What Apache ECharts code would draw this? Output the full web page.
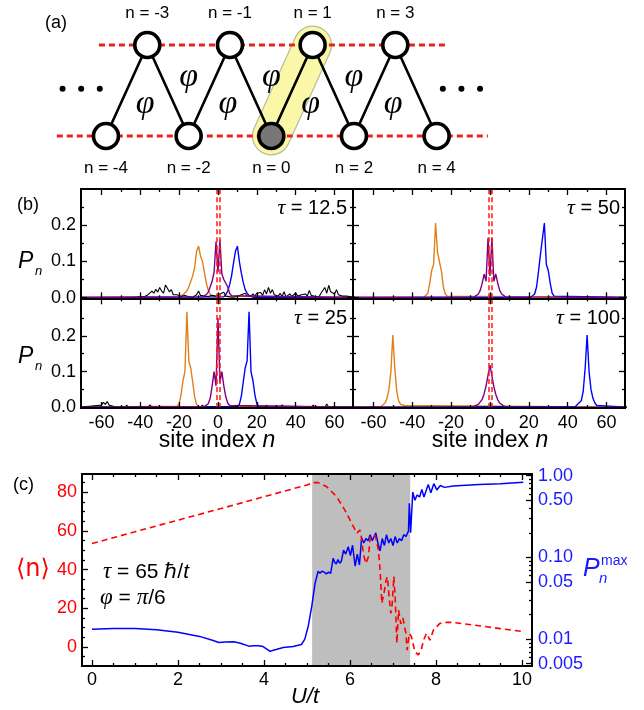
<!DOCTYPE html>
<html><head><meta charset="utf-8">
<script src="https://cdn.jsdelivr.net/npm/echarts@6/dist/echarts.min.js"></script>
<style>html,body{margin:0;padding:0;background:#fff}#c{width:644px;height:710px}</style>
</head><body><div id="c"></div>
<script>
// ================= DATA =================
// (a) lattice schematic
const siteN   = [-4,-3,-2,-1,0,1,2,3,4];
const siteRow = [0,1,0,1,0,1,0,1,0];
const phiN    = [-3.05,-2,-1.05,0,0.95,2,2.95];
const phiRow  = [0.35,0.65,0.35,0.65,0.35,0.65,0.35];
const dotsN   = [-5.05,-4.6,-4.15,4.15,4.6,5.05];
const dotsRow = 0.52;
const railTop = [-4.17, 4.24];
const railBot = [-5.19, 5.24];
const dimer   = [[0,0],[1,1]];

// (b) site populations P_n (start index + values at consecutive n)
const redLinesN = [-0.85, 0.85];
const tau125 = {label:'12.5',
  orangeStart:-20, orange:[0.002,0.005,0.008,0.012,0.018,0.03,0.045,0.06,0.083,0.128,0.142,0.115,0.1,0.07,0.04,0.02,0.01,0.004,0.001],
  blueStart:3, blue:[0.002,0.008,0.018,0.035,0.06,0.095,0.128,0.142,0.1,0.068,0.042,0.022,0.012,0.006,0.003,0.001],
  purpleStart:-8, purple:[0.002,0.004,0.008,0.015,0.03,0.045,0.07,0.155,0.07,0.16,0.065,0.05,0.055,0.03,0.012,0.005,0.002],
  blackStart:-46, black:[
    0,0.002,0,0.003,0.001,0.004,0.002,0.005,0.002,0.006,
    0.008,0.01,0.018,0.012,0.023,0.015,0.028,0.018,0.012,0.035,
    0.03,0.016,0.022,0.008,0.004,0.008,0.012,0.003,0.002,0.006,
    0.001,0.002,0.004,0.001,0.003,0.008,0.018,0.006,0.002,0.004,
    0.001,0.003,0.002,0.006,0.002,0.004,0.002,0.01,0.005,0.015,
    0.004,0.006,0.002,0.004,0.001,0.006,0.003,0.002,0.008,0.003,
    0.012,0.005,0.002,0.004,0.01,0.004,0.012,0.009,0.014,0.006,
    0.022,0.01,0.028,0.012,0.022,0.008,0.01,0.004,0.012,0.003,
    0.016,0.002,0.005,0.01,0.003,0.008,0.013,0.004,0.002,0.008,
    0.003,0.01,0.004,0.02,0.006,0.01,0.003,0.006,0.002,0.012,
    0.008,0.028,0.012,0.034,0.016,0.02,0.01,0.022,0.008,0.01,
    0.004,0.002,0.004,0]};
const tau50 = {label:'50',
  orangeStart:-34, orange:[0.001,0.004,0.012,0.04,0.075,0.092,0.206,0.125,0.12,0.073,0.03,0.01,0.004,0.001],
  blueStart:21, blue:[0.001,0.004,0.01,0.03,0.073,0.12,0.125,0.206,0.092,0.075,0.04,0.012,0.004,0.001],
  purpleStart:-8, purple:[0.002,0.005,0.01,0.02,0.04,0.065,0.045,0.165,0.06,0.165,0.045,0.065,0.04,0.02,0.01,0.005,0.002]};
const tau25 = {label:'25',
  orangeStart:-21, orange:[0.003,0.01,0.035,0.075,0.1,0.267,0.13,0.11,0.07,0.03,0.008,0.002],
  blueStart:10, blue:[0.002,0.008,0.03,0.07,0.11,0.13,0.267,0.1,0.075,0.035,0.01,0.003],
  purpleStart:-7, purple:[0.002,0.005,0.01,0.025,0.06,0.1,0.06,0.25,0.07,0.1,0.06,0.03,0.012,0.005,0.002],
  blackPairs:[[-70,0],[-69,0.003],[-68,0.002],[-67,0.005],[-66,0.003],[-65,0.006],[-64,0.004],[-63,0.008],[-62,0.005],[-61,0.01],[-60,0.006],[-59,0.014],[-58,0.008],[-57,0.016],[-56,0.006],[-55,0.01],[-54,0.003],[-53,0.004],[-52,0],[-48,0],[-47,0.006],[-46,0],[-45,0.004],[-44,0],[-40,0],[-39,0.005],[-38,0],[-36,0],[-35,0.007],[-34,0],[-29,0],[-28,0.005],[-27,0],[-20,0],[-19,0.004],[-18,0],[-9,0],[-8,0.006],[-7,0],[-1,0],[0,0.005],[1,0],[8,0],[9,0.006],[10,0],[16,0],[17,0.004],[18,0],[24,0],[25,0.006],[26,0],[32,0],[33,0.007],[34,0],[40,0],[41,0.004],[42,0],[48,0],[49,0.006],[50,0],[55,0],[56,0.009],[57,0],[60,0],[61,0.005],[62,0],[66,0],[67,0.004],[68,0],[70,0]]};
const tau100 = {label:'100',
  orangeStart:-56, orange:[0.002,0.005,0.012,0.025,0.05,0.1,0.202,0.11,0.045,0.018,0.008,0.012,0.005,0.002],
  blueStart:44, blue:[0.002,0.008,0.006,0.018,0.045,0.11,0.202,0.1,0.05,0.025,0.012,0.005,0.002],
  purpleStart:-10, purple:[0.001,0.002,0.003,0.005,0.008,0.013,0.022,0.038,0.06,0.09,0.118,0.088,0.058,0.036,0.021,0.012,0.007,0.004,0.002,0.001]};

// (c) mean position <n> and maximal population vs U/t
const nU    = [0,1,2,3,4,5,5.15,5.26,5.46,5.69,5.88,6.0,6.12,6.16,6.23,6.27,6.31,6.37,6.43,6.47,6.54,6.59,6.66,6.70,6.74,6.79,6.84,6.87,6.91,6.95,6.98,7.02,7.05,7.09,7.13,7.18,7.23,7.30,7.33,7.38,7.43,7.51,7.59,7.66,7.72,7.78,7.86,7.94,8.09,8.25,8.4,9.0,9.5,10.03];
const nMean = [53.5,59.6,65.6,71.6,77.7,83.8,85,85,82.9,77.7,70.8,65.7,60.5,58.8,60.5,56.2,48.3,43.2,46.7,57,57.9,57.5,50.2,39.8,22.6,27.8,34.6,36.3,26,17.4,22,36.4,26,1.9,19.1,12,15,7.1,-1.6,7,5.3,-2.4,-4.1,-1,4,7.1,3.5,8.8,12.2,12.8,12.7,11,9.5,8];
const pU    = [0,0.5,1,1.5,2,2.5,2.8,2.95,3.1,3.3,3.45,3.65,3.75,3.87,3.98,4.14,4.3,4.45,4.68,4.87,4.95,5.03,5.11,5.19,5.26,5.30,5.35,5.40,5.45,5.50,5.55,5.61,5.64,5.68,5.72,5.76,5.80,5.85,5.90,5.96,6.01,6.06,6.12,6.17,6.22,6.27,6.32,6.37,6.42,6.47,6.52,6.56,6.60,6.65,6.70,6.75,6.80,6.85,6.90,6.95,7.00,7.05,7.10,7.15,7.20,7.25,7.30,7.36,7.38,7.41,7.46,7.51,7.56,7.62,7.67,7.72,7.82,7.88,7.95,8.02,8.1,8.2,8.4,9,9.5,10.03];
const pMax  = [0.0132,0.0135,0.0135,0.0130,0.0121,0.0108,0.0097,0.0091,0.0092,0.0093,0.0089,0.0082,0.0083,0.0083,0.0081,0.0071,0.0075,0.0079,0.0081,0.0086,0.0100,0.0145,0.025,0.049,0.068,0.064,0.068,0.066,0.063,0.066,0.064,0.098,0.088,0.083,0.094,0.085,0.090,0.123,0.110,0.135,0.105,0.141,0.078,0.110,0.081,0.174,0.150,0.170,0.160,0.19,0.16,0.18,0.20,0.15,0.12,0.17,0.14,0.19,0.15,0.17,0.14,0.18,0.15,0.17,0.16,0.19,0.18,0.21,0.46,0.20,0.63,0.50,0.58,0.55,0.68,0.55,0.78,0.62,0.80,0.67,0.76,0.72,0.75,0.78,0.80,0.83];
const bandU = [5.12, 7.40];

// tick labels
const bXLabels = [-60,-40,-20,0,20,40,60];
const bXMinor  = [-50,-30,-10,10,30,50];
const bYLabels = [0,0.1,0.2];
const bYMinor  = [0.05,0.15,0.25];
const cXLabels = [0,2,4,6,8,10];
const cXMinor  = [0.5,1,1.5,2.5,3,3.5,4.5,5,5.5,6.5,7,7.5,8.5,9,9.5];
const cYLabels = [0,20,40,60,80];
const cYMinor  = [-5,5,10,15,25,30,35,45,50,55,65,70,75,85];
const cPLabelVals = [0.005,0.01,0.05,0.1,0.5,1];
const cPLabelText = ['0.005','0.01','0.05','0.10','0.50','1.00'];
const cPMinor = [0.006,0.007,0.008,0.009,0.02,0.03,0.04,0.06,0.07,0.08,0.09,0.2,0.3,0.4,0.6,0.7,0.8,0.9];

// ================= BUILD =================
const FONT = '"Liberation Sans", Arial, Helvetica, sans-serif';
const SERIF = '"Liberation Serif", "DejaVu Serif", serif';
const ORANGE = '#e0801a', BLUE = '#0000ff', PURPLE = '#800080', RED = '#ff1a1a';
const grids = [], xAxis = [], yAxis = [], series = [];

function axisDef(gi, pos, min, max, ticks, len, lab) {
  const o = {type:'value', gridIndex:gi, position:pos, min:min, max:max, z:6,
    axisLine:{show:true, onZero:false, lineStyle:{color:'#000', width:2}},
    axisTick:{show:true, inside:true, length:len, customValues:ticks, lineStyle:{color:'#000', width:1.3}},
    splitLine:{show:false}, minorTick:{show:false}, axisLabel:{show:false}};
  if (lab) o.axisLabel = {show:true, customValues:lab.vals, color:lab.color || '#000',
    fontSize:lab.size || 18, fontFamily:FONT, margin:lab.margin || 5, formatter:lab.fmt};
  return o;
}
function panel(rect, xr, yr, xt, yt, xLab, yLab, yRight) {
  const gi = grids.length;
  grids.push(Object.assign({show:false, containLabel:false, outerBoundsMode:'none'}, rect));
  const xi = xAxis.length, yi = yAxis.length;
  xAxis.push(axisDef(gi,'bottom',xr[0],xr[1],xt.major,6,xLab));
  xAxis.push(axisDef(gi,'bottom',xr[0],xr[1],xt.minor,3,null));
  xAxis.push(axisDef(gi,'top',xr[0],xr[1],xt.major,6,null));
  xAxis.push(axisDef(gi,'top',xr[0],xr[1],xt.minor,3,null));
  yAxis.push(axisDef(gi,'left',yr[0],yr[1],yt.major,6,yLab));
  yAxis.push(axisDef(gi,'left',yr[0],yr[1],yt.minor,3,null));
  const r = yRight || {range:yr, ticks:yt, lab:null};
  const yri = yAxis.length;
  yAxis.push(axisDef(gi,'right',r.range[0],r.range[1],r.ticks.major,6,r.lab));
  yAxis.push(axisDef(gi,'right',r.range[0],r.range[1],r.ticks.minor,3,null));
  return {xi:xi, yi:yi, yri:yri};
}

// ---- panel (a): hidden cartesian grid
grids.push({show:false, containLabel:false, outerBoundsMode:'none', left:23.3, top:8.6, width:496, height:163.8});
xAxis.push({type:'value', gridIndex:0, min:-6, max:6, show:false});
yAxis.push({type:'value', gridIndex:0, min:-0.4, max:1.4, show:false});
const A = {xAxisIndex:0, yAxisIndex:0, silent:true, animation:false};
series.push(Object.assign({type:'line', data:dimer, symbol:'none', z:1,
  lineStyle:{color:'#bdbb98', width:39, cap:'round'}}, A));
series.push(Object.assign({type:'line', data:dimer, symbol:'none', z:1,
  lineStyle:{color:'#faf8a8', width:36.5, cap:'round'}}, A));
series.push(Object.assign({type:'line', data:[[railTop[0],1],[railTop[1],1]], symbol:'none', z:2,
  lineStyle:{color:'#e8231d', width:3, type:[6,4]}}, A));
series.push(Object.assign({type:'line', data:[[railBot[0],0],[railBot[1],0]], symbol:'none', z:2,
  lineStyle:{color:'#e8231d', width:3, type:[6,4]}}, A));
series.push(Object.assign({type:'line', data:siteN.map((n,i)=>[n, siteRow[i]]), symbol:'none', z:3,
  lineStyle:{color:'#000', width:2.6}}, A));
series.push(Object.assign({type:'scatter', z:4, symbolSize:25,
  data:siteN.map((n,i)=>({value:[n, siteRow[i]],
    itemStyle:{color: n === 0 ? '#777777' : '#ffffff', borderColor:'#000', borderWidth:3.6, opacity:1},
    label:{offset:[0, siteRow[i] ? -32 : 32]}})),
  itemStyle:{opacity:1},
  label:{show:true, position:'inside', color:'#000', fontSize:17, fontFamily:FONT,
    formatter:p => 'n = ' + p.value[0]}}, A));
series.push(Object.assign({type:'scatter', z:4, symbolSize:1, itemStyle:{color:'rgba(0,0,0,0)', opacity:1},
  data:phiN.map((n,i)=>[n, phiRow[i]]),
  label:{show:true, position:'inside', color:'#000', fontSize:34, fontStyle:'italic', fontFamily:SERIF,
    formatter:'φ'}}, A));
series.push(Object.assign({type:'scatter', z:4, symbolSize:6, itemStyle:{color:'#000', opacity:1},
  data:dotsN.map(n=>[n, dotsRow])}, A));

// ---- panel (b)
function seq(start, vals) { return vals.map((v,i)=>[start+i, v]); }
function padded(arr) { return [[-72,0]].concat(arr, [[72,0]]); }
const bXR = [-70.5, 69.5];
const bXT = {major:bXLabels, minor:bXMinor};
const bYT = {major:bYLabels, minor:bYMinor};
const bXLab = {vals:bXLabels, size:18, margin:6, fmt:v => String(v)};
const bYLab = {vals:bYLabels, size:18, margin:5, fmt:v => v.toFixed(1)};
const bPanels = [
  {d:tau125, rect:{left:81, top:189, width:272, height:109.3}, yr:[-0.002,0.3], xl:false, yl:true},
  {d:tau50,  rect:{left:353, top:189, width:272, height:109.3}, yr:[-0.002,0.3], xl:false, yl:false},
  {d:tau25,  rect:{left:81, top:298.3, width:272, height:109.7}, yr:[-0.002,0.305], xl:true, yl:true},
  {d:tau100, rect:{left:353, top:298.3, width:272, height:109.7}, yr:[-0.002,0.305], xl:true, yl:false}
];
bPanels.forEach(bp => {
  const ix = panel(bp.rect, bXR, bp.yr, bXT, bYT, bp.xl ? bXLab : null, bp.yl ? bYLab : null);
  const base = {type:'line', xAxisIndex:ix.xi, yAxisIndex:ix.yi, symbol:'none', showSymbol:false,
    silent:true, animation:false, z:2};
  const d = bp.d;
  series.push(Object.assign({}, base, {data:padded(seq(d.orangeStart, d.orange)), lineStyle:{color:ORANGE, width:1.4}}));
  series.push(Object.assign({}, base, {data:padded(seq(d.blueStart, d.blue)), lineStyle:{color:BLUE, width:1.4}}));
  if (d.black) series.push(Object.assign({}, base, {data:padded(seq(d.blackStart, d.black)), lineStyle:{color:'#000', width:1.1}}));
  if (d.blackPairs) series.push(Object.assign({}, base, {data:d.blackPairs, lineStyle:{color:'#000', width:1.1}}));
  series.push(Object.assign({}, base, {data:padded(seq(d.purpleStart, d.purple)), lineStyle:{color:PURPLE, width:1.4},
    markLine:{silent:true, symbol:['none','none'], label:{show:false}, animation:false,
      lineStyle:{color:RED, width:1.5, type:[5,3]}, data:redLinesN.map(x=>({xAxis:x}))}}));
});

// ---- panel (c)
const log10 = v => Math.log10(v);
const cIx = panel({left:82, top:474, width:450, height:192},
  [-0.2326, 10.233], [-9.82, 89.46],
  {major:cXLabels, minor:cXMinor}, {major:cYLabels, minor:cYMinor},
  {vals:cXLabels, size:18, margin:5, fmt:v => String(v)},
  {vals:cYLabels, size:18, margin:5, color:'#ff0000', fmt:v => String(v)},
  {range:[-2.329, 0.021],
   ticks:{major:cPLabelVals.map(log10), minor:cPMinor.map(log10)},
   lab:{vals:cPLabelVals.map(log10), size:18, margin:6, color:'#1a1aff',
        fmt:v => { let b = 0; cPLabelVals.forEach((p,i)=>{ if (Math.abs(log10(p)-v) < Math.abs(log10(cPLabelVals[b])-v)) b = i; }); return cPLabelText[b]; }}});
series.push({type:'line', xAxisIndex:cIx.xi, yAxisIndex:cIx.yri, symbol:'none', showSymbol:false,
  silent:true, animation:false, z:2,
  data:pU.map((u,i)=>[u, log10(pMax[i])]), lineStyle:{color:BLUE, width:1.5},
  markArea:{silent:true, itemStyle:{color:'#bebebe'}, data:[[{xAxis:bandU[0]},{xAxis:bandU[1]}]]}});
series.push({type:'line', xAxisIndex:cIx.xi, yAxisIndex:cIx.yi, symbol:'none', showSymbol:false,
  silent:true, animation:false, z:3,
  data:nU.map((u,i)=>[u, nMean[i]]), lineStyle:{color:'#ff0000', width:1.6, type:[6,4]}});

// ---- texts
function T(x, y, text, o) {
  return {type:'text', x:x, y:y, silent:true, z:20, style:Object.assign({text:text, fill:'#000', fontSize:18,
    fontFamily:FONT, align:'left', verticalAlign:'middle'}, o || {})};
}
const richI = {i:{fontStyle:'italic', fontFamily:SERIF, fontSize:22}};
const graphic = [
  T(45, 23, '(a)'),
  T(17, 205, '(b)'),
  T(13, 485, '(c)'),
  T(18, 262, 'P', {fontSize:23, fontStyle:'italic'}),
  T(35, 271, 'n', {fontSize:13, fontStyle:'italic'}),
  T(18, 357, 'P', {fontSize:23, fontStyle:'italic'}),
  T(35, 366, 'n', {fontSize:13, fontStyle:'italic'}),
  T(347, 208, '{i|τ} = ' + tau125.label, {align:'right', fontSize:20, rich:richI}),
  T(620, 208, '{i|τ} = ' + tau50.label, {align:'right', fontSize:20, rich:richI}),
  T(347, 318, '{i|τ} = ' + tau25.label, {align:'right', fontSize:20, rich:richI}),
  T(620, 318, '{i|τ} = ' + tau100.label, {align:'right', fontSize:20, rich:richI}),
  T(217, 441, 'site index {n|n}', {align:'center', fontSize:23, rich:{n:{fontStyle:'italic', fontSize:23, fontFamily:FONT}}}),
  T(490, 441, 'site index {n|n}', {align:'center', fontSize:23, rich:{n:{fontStyle:'italic', fontSize:23, fontFamily:FONT}}}),
  T(103, 572, '{i|τ} = 65 ℏ/{t|t}', {fontSize:21, rich:{i:{fontStyle:'italic', fontFamily:SERIF, fontSize:23}, t:{fontStyle:'italic', fontSize:21, fontFamily:FONT}}}),
  T(100, 598, '{i|φ} = {i|π}/6', {fontSize:21, rich:{i:{fontStyle:'italic', fontFamily:SERIF, fontSize:23}}}),
  T(16, 570, '⟨n⟩', {fontSize:24, fill:'#ff0000', fontFamily:'"DejaVu Sans", sans-serif'}),
  T(583, 569, 'P', {fontSize:25, fontStyle:'italic', fill:'#1a1aff'}),
  T(601, 561, 'max', {fontSize:14, fill:'#1a1aff'}),
  T(599, 579, 'n', {fontSize:15, fontStyle:'italic', fill:'#1a1aff'}),
  T(305, 697, 'U/t', {align:'center', fontSize:22, fontStyle:'italic'})
];

const chart = echarts.init(document.getElementById('c'), null, {renderer:'canvas'});
chart.setOption({animation:false, backgroundColor:'#fff', grid:grids, xAxis:xAxis, yAxis:yAxis,
  series:series, graphic:graphic});
</script></body></html>
